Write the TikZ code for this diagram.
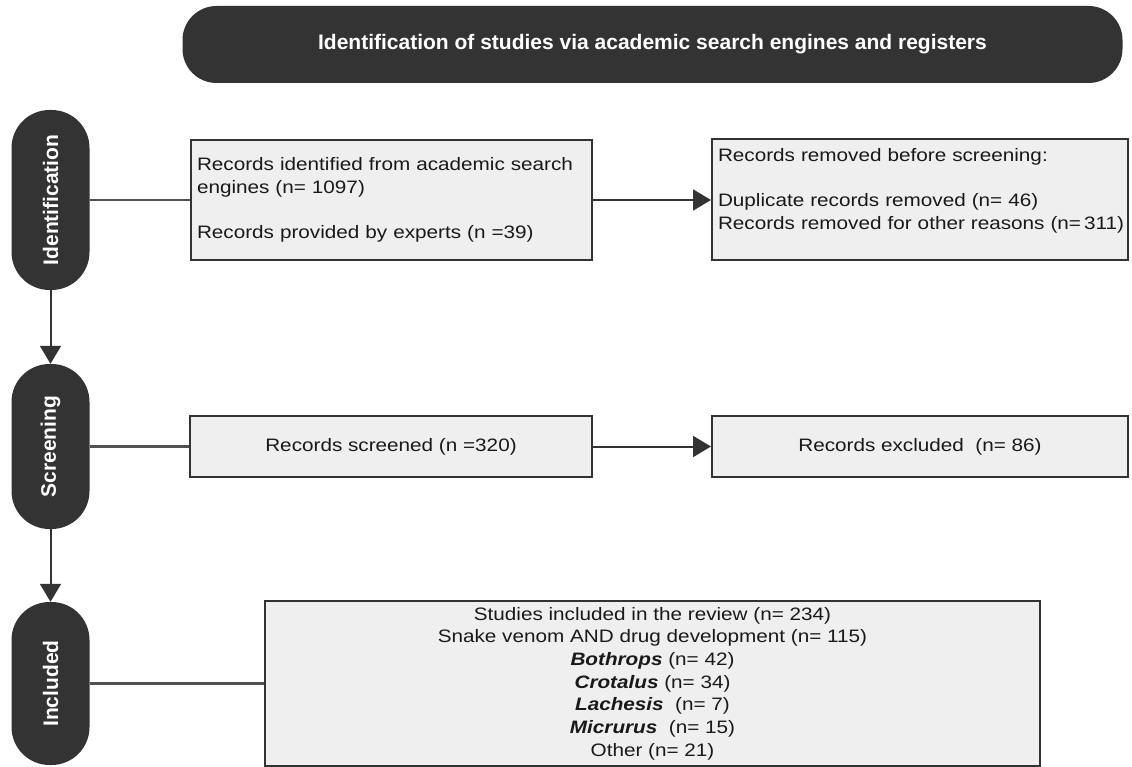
\documentclass[tikz,border=0pt]{standalone}
\usepackage{fontspec}
\setmainfont[FakeStretch=1.15]{Liberation Sans}
\newfontfamily\titlefont{Liberation Sans}
\usetikzlibrary{arrows.meta}
\definecolor{darkfill}{HTML}{333333}
\definecolor{boxfill}{HTML}{EEEFEE}
\tikzset{
	banner/.style={fill=darkfill, text=white, rounded corners=34pt, minimum width=940pt, minimum height=77pt, font=\titlefont\fontsize{21}{24}\selectfont\bfseries},
	stage/.style={fill=darkfill, text=white, rounded corners=38pt, minimum height=78pt, rotate=90, inner sep=0pt, font=\titlefont\fontsize{21}{24}\selectfont\bfseries},
	infobox/.style={draw=darkfill, line width=2pt, fill=boxfill, inner sep=6pt, text=black!90, font=\fontsize{18}{22.7}\selectfont},
	link/.style={draw=darkfill!85, line width=2.8pt},
	flow/.style={draw=darkfill, line width=2pt, -{Triangle[length=18pt,width=21pt]}},
}
\begin{document}
\begin{tikzpicture}[x=1pt, y=-1pt]
		\useasboundingbox (0,0) rectangle (1132,767);
		\node[banner] (title) at (652.5,44.5) {Identification of studies via academic search engines and registers};

		\node[stage, minimum width=180pt] (ident) at (50.5,200) {Identification};
		\node[stage, minimum width=165pt] (screen) at (50.5,446.5) {Screening};
		\node[stage, minimum width=163pt] (incl) at (50.5,683.5) {Included};

		\node[infobox, minimum width=401pt, minimum height=120pt, text width=389pt, align=left] (found) at (391.5,200) {Records identified from academic search\\ engines (n= 1097)\\ \mbox{}\\ Records provided by experts (n =39)};
		\node[infobox, minimum width=416pt, minimum height=121pt, text width=404pt, align=left] (removed) at (920,200) {Records removed before screening:\\ \mbox{}\\ Duplicate records removed (n= 46)\\ \mbox{Records removed for other reasons (n=\,311)}\\ \mbox{}};
		\node[infobox, minimum width=402pt, minimum height=61pt] (screened) at (391,446.5) {Records screened (n =320)};
		\node[infobox, minimum width=416pt, minimum height=61pt] (excluded) at (920,446.5) {Records excluded\ \ (n= 86)};
		\node[infobox, minimum width=775pt, minimum height=163pt, align=center] (studies) at (652.5,683.5) {Studies included in the review (n= 234)\\ Snake venom AND drug development (n= 115)\\ \textbf{\textit{Bothrops}} (n= 42)\\ \textbf{\textit{Crotalus}} (n= 34)\\ \textbf{\textit{Lachesis}}\ \ (n= 7)\\ \textbf{\textit{Micrurus}}\ \ (n= 15)\\ Other (n= 21)};

		\draw[link] (ident) -- (found);
		\draw[link] (screen) -- (screened);
		\draw[link] (incl) -- (studies);
		\draw[flow] (found) -- (removed);
		\draw[flow] (screened) -- (excluded);
		\draw[flow] (ident) -- (screen);
		\draw[flow] (screen) -- (incl);
	\end{tikzpicture}
\end{document}
